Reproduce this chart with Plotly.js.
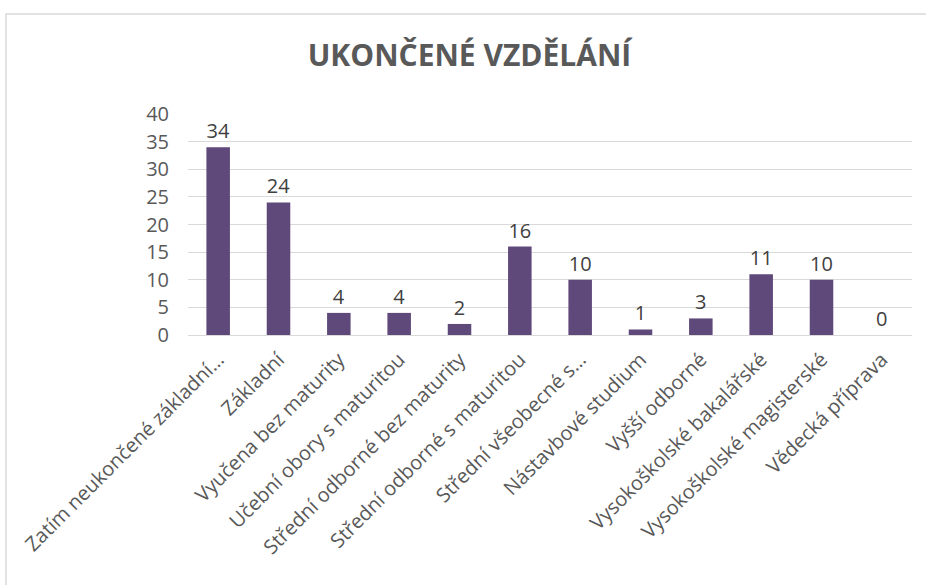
<!DOCTYPE html>
<html>
<head>
<meta charset="utf-8">
<script src="https://cdn.plot.ly/plotly-3.0.1.min.js"></script>
<style>
  html, body { margin: 0; padding: 0; background: #ffffff; }
  #chart { width: 926px; height: 585px; }
</style>
</head>
<body>
<div id="chart"></div>
<script>
const categories = [
  "Zatím neukončené základní…",
  "Základní",
  "Vyučena bez maturity",
  "Učební obory s maturitou",
  "Střední odborné bez maturity",
  "Střední odborné s maturitou",
  "Střední všeobecné s…",
  "Nástavbové studium",
  "Vyšší odborné",
  "Vysokoškolské bakalářské",
  "Vysokoškolské magisterské",
  "Vědecká příprava"
];
const values = [34, 24, 4, 4, 2, 16, 10, 1, 3, 11, 10, 0];
const yTicks = [0, 5, 10, 15, 20, 25, 30, 35, 40];
const chartTitle = "UKONČENÉ VZDĚLÁNÍ";

const trace = {
  type: "bar",
  x: categories,
  y: values,
  marker: { color: "#5F497A" },
  text: values.map(String),
  textposition: "outside",
  textfont: { family: "Open Sans, sans-serif", size: 20, color: "#404040" },
  cliponaxis: false,
  hoverinfo: "none"
};

const layout = {
  width: 926,
  height: 585,
  margin: { l: 188, r: 14, t: 114, b: 250 },
  paper_bgcolor: "#ffffff",
  plot_bgcolor: "#ffffff",
  showlegend: false,
  bargap: 0.61,
  title: {
    text: "<b>" + chartTitle + "</b>",
    font: { family: "Open Sans, sans-serif", size: 30, color: "#595959" },
    x: 0.507, xanchor: "center",
    xref: "container",
    y: 1 - 55 / 585, yanchor: "middle", yref: "container"
  },
  xaxis: {
    type: "category",
    tickangle: -45,
    tickfont: { family: "Open Sans, sans-serif", size: 20, color: "#595959" },
    showgrid: false,
    showline: true,
    linecolor: "#d9d9d9",
    linewidth: 1,
    ticks: "",
    ticklabelstandoff: 4
  },
  yaxis: {
    range: [0, 40],
    tickvals: yTicks,
    ticktext: yTicks.map(String),
    tickfont: { family: "Open Sans, sans-serif", size: 20, color: "#595959" },
    showgrid: true,
    gridcolor: "#d9d9d9",
    gridwidth: 1,
    zeroline: false,
    showline: false,
    ticks: "",
    ticklabelstandoff: 18
  },
  shapes: [{
    type: "rect",
    xref: "paper", yref: "paper",
    x0: (6 - 188) / 724, x1: (960 - 188) / 724,
    y0: (335 - 640) / 221, y1: 1 + (114 - 14) / 221,
    line: { color: "#d9d9d9", width: 1.5 },
    fillcolor: "rgba(0,0,0,0)",
    layer: "below"
  }]
};

Plotly.newPlot("chart", [trace], layout, { displayModeBar: false, staticPlot: true });
</script>
</body>
</html>
